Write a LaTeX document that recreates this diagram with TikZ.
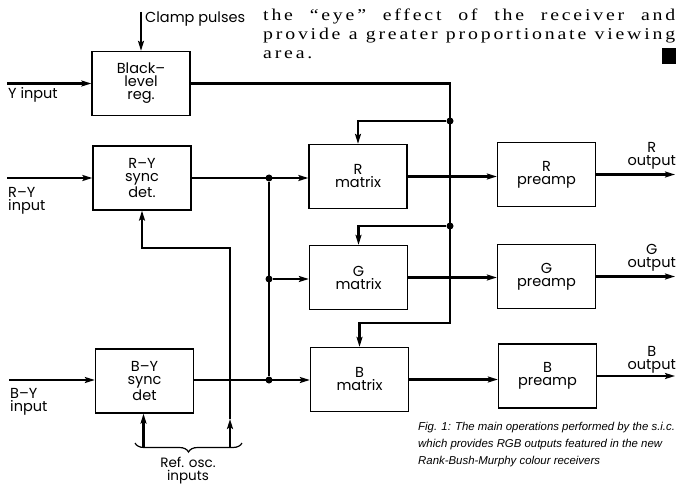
\documentclass[tikz,border=0pt]{standalone}
\usepackage{fontspec}
\setmainfont{Liberation Serif}
\newfontfamily\labelfont{Poppins}
\newfontfamily\capfont{Liberation Sans}
\newfontfamily\bodyserif[LetterSpace=17,FakeStretch=1.2]{Liberation Serif}
\usetikzlibrary{arrows.meta,decorations.pathreplacing}

\tikzset{
  block/.style={draw, line width=1.3pt, minimum width=98pt, minimum height=64pt,
    inner sep=0pt, align=center, font=\labelfont\fontsize{14.5}{13}\selectfont},
  sig/.style={line width=2.2pt},
  arr/.style={sig, -{Stealth[length=10pt,width=6pt,inset=2pt]}},
  jdot/.style={circle, fill, inner sep=0pt, minimum size=7pt},
  lbl/.style={inner sep=0pt, font=\labelfont\fontsize{14.5}{13}\selectfont},
  body/.style={anchor=base west, inner sep=0pt, font=\bodyserif\fontsize{16.5}{19}\selectfont},
}

\begin{document}
\begin{tikzpicture}[x=1pt,y=-1pt]
\useasboundingbox (0,0) rectangle (676,486);
\clip (0,0) rectangle (676,486);

% running text of the article above the figure
\node[body] (t1) at (263,21)
  {\makebox[412pt][s]{the “eye” effect of the receiver and}};
\node[body] (t2) at (263,40)
  {\makebox[412pt][s]{provide a greater proportionate viewing}};
\node[body] (t3) at (263,59) {area.};
\fill (662,48) rectangle (676,64);

% blocks
\node[block] (blk) at (141,83.5) {Black–\\level\\reg.};
\node[block] (ry) at (142,178) {R–Y\\sync\\det.};
\node[block] (by) at (144.5,381) {B–Y\\sync\\det};
\node[block] (rm) at (358,176.5) {R\\matrix};
\node[block] (gm) at (358.5,277.5) {G\\matrix};
\node[block] (bm) at (359.5,379.5) {B\\matrix};
\node[block] (rp) at (546.5,174.5) {R\\preamp};
\node[block] (gp) at (546.5,276.5) {G\\preamp};
\node[block] (bp) at (547.5,376) {B\\preamp};

% junctions
\node[jdot] (d1) at (269,178) {};
\node[jdot] (d2) at (269,279) {};
\node[jdot] (d3) at (269,380) {};
\node[jdot] (d4) at (450,121) {};
\node[jdot] (d5) at (450,226) {};

% free ends
\coordinate (yin) at (7,83.5);
\coordinate (ryin) at (7,178);
\coordinate (byin) at (9,380);
\coordinate (clamp) at (141,12);
\coordinate (tr) at (450,83.5);
\coordinate (bk) at (450,323);
\coordinate (rout) at (675,173);
\coordinate (gout) at (675,274);
\coordinate (bout) at (675,375);
\coordinate (osc1) at (143.5,447);
\coordinate (osc2) at (230,447);
\coordinate (oscm) at (230,419);
\coordinate (fb) at (230,248);

% inputs
\draw[arr] (yin) -- (blk.west);
\draw[arr] (ryin) -- (ryin -| ry.west);
\draw[arr] (byin) -- (byin -| by.west);
\draw[arr] (clamp) -- (blk.north);

% luminance bus to the matrices
\draw[arr] (blk.east) -- (tr) -- (bk) -- (bk -| bm.north) -- (bm.north);
\draw[arr] (d4) -- (d4 -| rm.north) -- (rm.north);
\draw[arr] (d5) -- (d5 -| gm.north) -- (gm.north);

% colour difference signals
\draw[arr] (ry.east) -- (ry.east -| rm.west);
\draw[sig] (d1) -- (d3);
\draw[arr] (d2) -- (d2 -| gm.west);
\draw[arr] (d3 -| by.east) -- (d3 -| bm.west);

% matrices to preamps and outputs
\draw[arr] (rm.east) -- (rm.east -| rp.west);
\draw[arr] (gm.east) -- (gm.east -| gp.west);
\draw[arr] (bm.east) -- (bm.east -| bp.west);
\draw[arr] (rp.east) -- (rp.east -| rout);
\draw[arr] (gp.east) -- (gp.east -| gout);
\draw[arr] (bp.east) -- (bp.east -| bout);

% reference oscillator inputs
\draw[arr] (osc1) -- (osc1 |- by.south);
\draw[arr] (osc2) -- (oscm);
\draw[arr] (oscm) -- (fb) -- (fb -| ry.south) -- (ry.south);
\draw[decorate, decoration={brace, amplitude=9pt, mirror}, line width=1.2pt] (135,443) -- (242,443);

% labels
\node[lbl, anchor=base west] (clab) at (145,22.5) {Clamp pulses};
\node[lbl, anchor=base west] (ylab) at (8,99) {Y input};
\node[lbl, anchor=north west, align=left] (rylab) at (8,187) {R–Y\\input};
\node[lbl, anchor=north west, align=left] (bylab) at (10,388) {B–Y\\input};
\node[lbl, anchor=north east, align=center] (rolab) at (676,142) {R\\output};
\node[lbl, anchor=north east, align=center] (golab) at (676,244) {G\\output};
\node[lbl, anchor=north east, align=center] (bolab) at (676,346) {B\\output};
\node[lbl, anchor=north, align=center, font=\labelfont\fontsize{13.5}{13}\selectfont] (osclab) at (188,457) {Ref. osc.\\inputs};

% caption
\node[anchor=north west, inner sep=0pt, align=left,
  font=\capfont\itshape\fontsize{11.4}{17}\selectfont] (cap) at (418,422)
  {Fig. 1: The main operations performed by the s.i.c.\\
   which provides RGB outputs featured in the new\\
   Rank-Bush-Murphy colour receivers};
\end{tikzpicture}
\end{document}
